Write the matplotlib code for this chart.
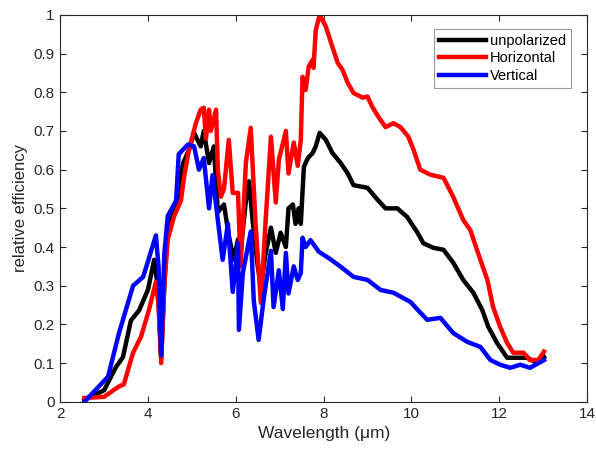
import matplotlib
matplotlib.use("Agg")
import matplotlib.pyplot as plt

plt.rcParams['font.family'] = ['Liberation Sans', 'DejaVu Sans']

# readings, wavelength in um
wl_unpol = [2.55, 3.0, 3.27, 3.43, 3.61, 3.80, 4.0, 4.14, 4.22, 4.30, 4.38, 4.45, 4.64,
            4.8, 4.93, 5.05, 5.2, 5.27, 5.39, 5.5, 5.59, 5.73, 5.84, 5.95, 6.05, 6.11,
            6.23, 6.3, 6.39, 6.5, 6.57, 6.68, 6.8, 6.91, 7.02, 7.14, 7.2, 7.3, 7.36,
            7.43, 7.48, 7.55, 7.64, 7.75, 7.82, 7.91, 8.05, 8.2, 8.39, 8.55, 8.68, 9.0,
            9.23, 9.41, 9.68, 9.9, 10.14, 10.27, 10.5, 10.73, 10.95, 11.18, 11.41,
            11.61, 11.75, 11.95, 12.18, 12.36, 12.64, 12.82, 13.02]
unpol = [0.005, 0.03, 0.09, 0.116, 0.21, 0.237, 0.29, 0.367, 0.30, 0.116, 0.32, 0.45,
         0.504, 0.617, 0.65, 0.695, 0.66, 0.70, 0.617, 0.66, 0.49, 0.51, 0.43, 0.367,
         0.42, 0.39, 0.52, 0.57, 0.46, 0.35, 0.30, 0.385, 0.45, 0.385, 0.437, 0.40,
         0.50, 0.51, 0.46, 0.50, 0.46, 0.607, 0.63, 0.643, 0.66, 0.695, 0.677, 0.643,
         0.617, 0.59, 0.56, 0.553, 0.522, 0.50, 0.50, 0.478, 0.437, 0.41, 0.398,
         0.393, 0.36, 0.315, 0.282, 0.238, 0.194, 0.152, 0.114, 0.114, 0.114, 0.103,
         0.116]

wl_horiz = [2.55, 3.0, 3.34, 3.45, 3.66, 3.84, 4.02, 4.18, 4.24, 4.30, 4.37, 4.45, 4.59,
            4.75, 4.82, 4.93, 5.09, 5.2, 5.27, 5.32, 5.39, 5.43, 5.55, 5.59, 5.66, 5.73,
            5.84, 5.93, 6.05, 6.11, 6.23, 6.34, 6.45, 6.57, 6.68, 6.80, 6.91, 6.98,
            7.14, 7.20, 7.32, 7.41, 7.48, 7.52, 7.59, 7.66, 7.75, 7.77, 7.82, 7.91,
            8.05, 8.2, 8.32, 8.43, 8.55, 8.68, 8.89, 9.0, 9.11, 9.25, 9.41, 9.59, 9.75,
            9.93, 10.05, 10.2, 10.43, 10.73, 10.95, 11.18, 11.34, 11.57, 11.73, 11.86,
            12.02, 12.18, 12.32, 12.55, 12.7, 12.89, 13.02]
horiz = [0.01, 0.013, 0.04, 0.045, 0.127, 0.168, 0.237, 0.31, 0.25, 0.10, 0.30, 0.42,
         0.478, 0.52, 0.58, 0.65, 0.72, 0.755, 0.76, 0.68, 0.755, 0.70, 0.755, 0.60,
         0.53, 0.55, 0.677, 0.54, 0.54, 0.35, 0.618, 0.708, 0.46, 0.256, 0.47, 0.685,
         0.515, 0.625, 0.70, 0.59, 0.67, 0.61, 0.677, 0.84, 0.806, 0.866, 0.884,
         0.863, 0.96, 1.0, 0.97, 0.917, 0.876, 0.858, 0.824, 0.798, 0.786, 0.789,
         0.762, 0.736, 0.71, 0.72, 0.71, 0.685, 0.651, 0.60, 0.587, 0.579, 0.53,
         0.47, 0.444, 0.367, 0.315, 0.245, 0.194, 0.152, 0.127, 0.127, 0.108, 0.108,
         0.13]

wl_vert = [2.55, 3.09, 3.34, 3.66, 3.89, 4.18, 4.24, 4.30, 4.37, 4.45, 4.64, 4.70, 4.91,
           5.05, 5.16, 5.27, 5.39, 5.47, 5.59, 5.70, 5.82, 5.93, 6.05, 6.07, 6.16, 6.34,
           6.41, 6.52, 6.64, 6.80, 6.86, 6.98, 7.07, 7.14, 7.2, 7.32, 7.41, 7.48, 7.52,
           7.59, 7.7, 7.89, 8.11, 8.39, 8.68, 9.0, 9.3, 9.59, 9.98, 10.14, 10.36, 10.66,
           10.95, 11.27, 11.57, 11.8, 12.02, 12.25, 12.48, 12.7, 13.02]
vert = [0.0, 0.065, 0.178, 0.30, 0.323, 0.43, 0.35, 0.12, 0.38, 0.48, 0.52, 0.64,
        0.665, 0.66, 0.60, 0.63, 0.50, 0.586, 0.47, 0.367, 0.46, 0.284, 0.41, 0.186,
        0.333, 0.44, 0.26, 0.16, 0.27, 0.39, 0.245, 0.34, 0.24, 0.385, 0.28, 0.35,
        0.315, 0.333, 0.424, 0.40, 0.418, 0.388, 0.372, 0.349, 0.323, 0.315, 0.289,
        0.282, 0.258, 0.238, 0.212, 0.217, 0.178, 0.155, 0.142, 0.108, 0.096, 0.088,
        0.096, 0.088, 0.108]

fig = plt.figure(figsize=(5.96, 4.5), dpi=100)
ax = fig.add_axes([0.101, 0.107, 0.884, 0.860])

ax.plot(wl_unpol, unpol, color='black', lw=3.2, label='unpolarized')
ax.plot(wl_horiz, horiz, color='red', lw=3.2, label='Horizontal')
ax.plot(wl_vert, vert, color='blue', lw=3.2, label='Vertical')

ax.set_xlim(2, 14)
ax.set_ylim(0, 1)
ax.set_xticks(range(2, 15, 2))
ax.set_yticks([i / 10 for i in range(11)])
ax.set_yticklabels(['0'] + ['%.1f' % (i / 10) for i in range(1, 10)] + ['1'])

gray = '#262626'
for s in ax.spines.values():
    s.set_color(gray)
    s.set_linewidth(0.8)
ax.tick_params(direction='in', top=True, right=True, length=4, width=0.8,
               colors=gray, labelsize=11, pad=4)

ax.set_xlabel('Wavelength (μm)', fontsize=12.5, color=gray, labelpad=3)
ax.set_ylabel('relative efficiency', fontsize=12, color=gray, labelpad=4)

leg = ax.legend(loc='upper right', bbox_to_anchor=(0.975, 0.972), fontsize=10.5,
                fancybox=False, handlelength=3.2, handletextpad=0.25,
                borderpad=0.35, labelspacing=0.25, borderaxespad=0.2)
leg.get_frame().set_edgecolor('#808080')
leg.get_frame().set_linewidth(0.8)

fig.savefig('out.png', dpi=100)
